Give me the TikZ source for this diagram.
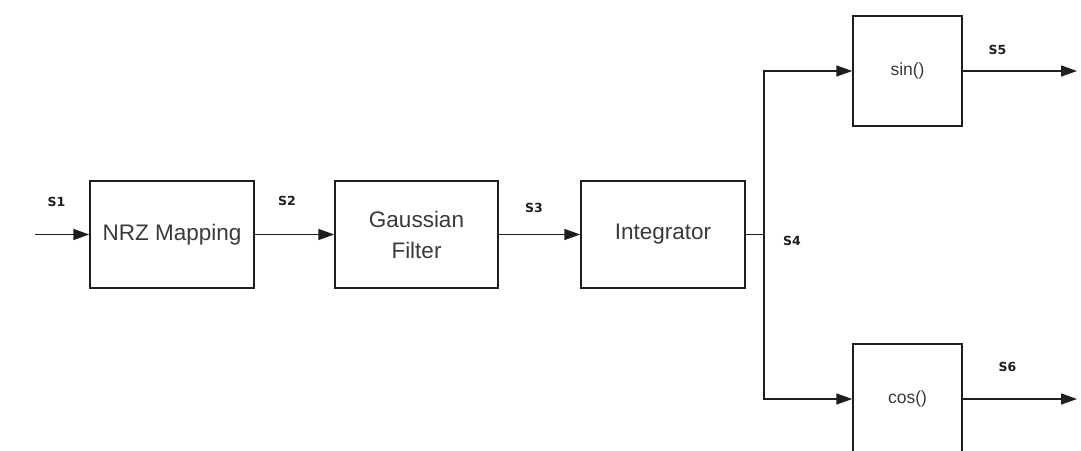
\documentclass[tikz,border=0pt]{standalone}
\usepackage{fontspec}
\setmainfont{Liberation Sans}
\newfontfamily\sigfont{DejaVu Sans}
\usetikzlibrary{arrows.meta}
\definecolor{ink}{HTML}{1E1E1E}
\definecolor{txt}{HTML}{3A3A3A}
\begin{document}
\begin{tikzpicture}[x=1pt,y=-1pt,
  blk/.style={draw=ink, line width=1.5pt, fill=white, text=txt, align=center,
    inner sep=0pt, font=\fontsize{22.5}{31}\selectfont},
  small/.style={blk, font=\fontsize{17.5}{20}\selectfont},
  wire/.style={draw=ink, line width=1.6pt},
  arr/.style={wire, -{Triangle[length=16pt,width=11pt]}},
  sig/.style={font=\sigfont\bfseries\fontsize{12.5}{14}\selectfont, text=ink, inner sep=0pt}]
\useasboundingbox (0,0) rectangle (1081,450);

% signal chain
\node[blk, minimum width=164pt, minimum height=107pt] (nrz) at (172,234.5) {NRZ Mapping};
\node[blk, minimum width=163pt, minimum height=107pt] (gauss) at (416.5,234.5) {Gaussian\\Filter};
\node[blk, minimum width=164pt, minimum height=107pt] (integ) at (663,234.5) {Integrator};
\node[small, minimum width=109pt, minimum height=110pt] (sin) at (907.5,71) {sin()};
\node[small, minimum width=109pt, minimum height=110pt] (cos) at (907.5,399) {cos()};

% free ends and branch point
\coordinate (in) at (35,234.5);
\coordinate (j) at (764,234.5);
\coordinate (o5) at (1077,71);
\coordinate (o6) at (1077,399);

\draw[arr] (in) -- (nrz.west);
\draw[arr] (nrz.east) -- (gauss.west);
\draw[arr] (gauss.east) -- (integ.west);
\draw[wire] (integ.east) -- (j);
\draw[arr] (j) |- (sin.west);
\draw[arr] (j) |- (cos.west);
\draw[arr] (sin.east) -- (o5);
\draw[arr] (cos.east) -- (o6);

% signal labels
\node[sig] (s1) at (56.5,202) {S1};
\node[sig] (s2) at (287,201) {S2};
\node[sig] (s3) at (534,207.5) {S3};
\node[sig] (s4) at (792,240.5) {S4};
\node[sig] (s5) at (997.5,49.5) {S5};
\node[sig] (s6) at (1007.5,367) {S6};
\end{tikzpicture}
\end{document}
